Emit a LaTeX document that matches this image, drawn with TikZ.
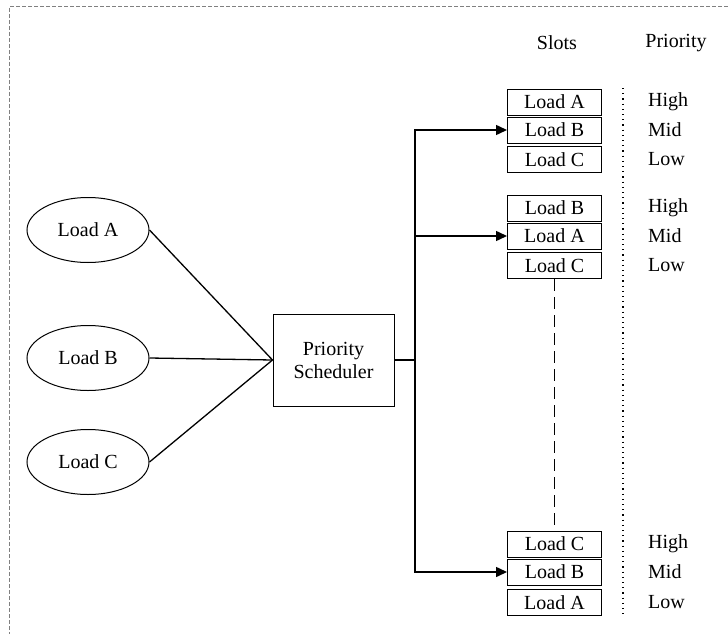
\documentclass[tikz,border=0pt]{standalone}
\usepackage{fontspec}
\setmainfont{Liberation Serif}
\usetikzlibrary{shapes.geometric,arrows.meta}

\begin{document}
\begin{tikzpicture}[x=1pt,y=-1pt,
  font=\fontsize{20}{23}\selectfont,
  load/.style={ellipse,draw,line width=1pt,minimum width=122pt,minimum height=65pt,inner sep=0pt},
  slot/.style={draw,line width=1pt,minimum width=94pt,minimum height=26pt,inner sep=0pt},
  sched/.style={draw,line width=1pt,minimum width=121pt,minimum height=92pt,inner sep=0pt,align=center},
  link/.style={line width=1.3pt},
  feed/.style={line width=1.5pt,-{Triangle[length=11pt,width=10pt]}},
  lvl/.style={anchor=west,inner sep=0pt},
  head/.style={inner sep=0pt},
  frame/.style={draw=gray,line width=1pt,dash pattern=on 4pt off 2pt},
  sep/.style={line width=1.2pt,dash pattern=on 1.2pt off 4pt},
  gap/.style={line width=1.5pt,dash pattern=on 12pt off 6pt}]
\useasboundingbox (0,0) rectangle (728,634);

% outer dashed frame
\draw[frame] (728,7) -- (9,7) -- (9,634);

% loads
\node[load] (la) at (88,230) {Load A};
\node[load] (lb) at (88,358) {Load B};
\node[load] (lc) at (88,462) {Load C};

% scheduler
\node[sched] (ps) at (333.5,360) {Priority\\Scheduler};

\draw[link] (la.east) -- (ps.west);
\draw[link] (lb.east) -- (ps.west);
\draw[link] (lc.east) -- (ps.west);

% headers
\node[head] (hs) at (557,43) {Slots};
\node[head] (hp) at (676,43) {Priority};

% slot groups
\node[slot] (s1a) at (554.5,102) {Load A};
\node[slot] (s1b) at (554.5,130) {Load B};
\node[slot] (s1c) at (554.5,159.5) {Load C};

\node[slot] (s2b) at (554.5,208) {Load B};
\node[slot] (s2a) at (554.5,236) {Load A};
\node[slot] (s2c) at (554.5,265.5) {Load C};

\node[slot] (s3c) at (554.5,544) {Load C};
\node[slot] (s3b) at (554.5,572) {Load B};
\node[slot] (s3a) at (554.5,602.5) {Load A};

% distribution from scheduler
\coordinate (split) at (415,360);
\draw[link] (ps.east) -- (split);
\draw[feed] (split) |- (s1b.west);
\draw[feed] (split) |- (s2a.west);
\draw[feed] (split) |- (s3b.west);

% omitted groups
\draw[gap] (s2c.south) -- (s3c.north);

% priority column
\coordinate (d1) at (623,88);
\coordinate (d2) at (623,614);
\draw[sep] (d1) -- (d2);

\foreach \y/\t/\n in {102/High/p1h,130/Mid/p1m,159.5/Low/p1l,
                      208/High/p2h,236/Mid/p2m,265.5/Low/p2l,
                      544/High/p3h,572/Mid/p3m,602.5/Low/p3l}
  \node[lvl] (\n) at (648,\y) {\t};
\end{tikzpicture}
\end{document}
